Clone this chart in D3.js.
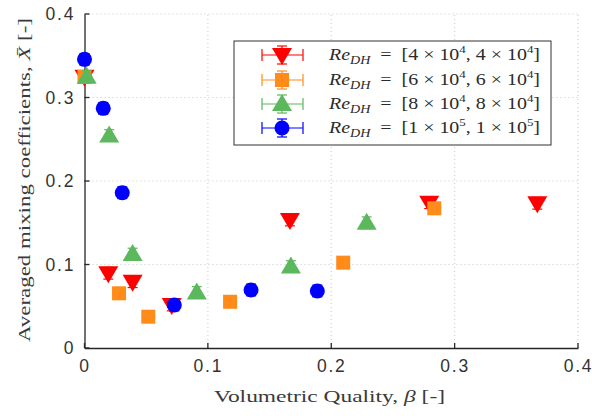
<!DOCTYPE html>
<html><head><meta charset="utf-8">
<script src="https://cdn.jsdelivr.net/npm/d3@7"></script>
<style>body{margin:0;background:#fff}svg{display:block}</style>
</head><body>
<svg id="chart" width="592" height="416"></svg>
<script>
const xTicks = [0, 0.1, 0.2, 0.3, 0.4];
const yTicks = [0, 0.1, 0.2, 0.3, 0.4];
const seriesNames = ["4", "6", "8", "1"];
const seriesExp = ["4", "4", "4", "5"];
const redX = [0, 0.0193, 0.039, 0.0707, 0.1665, 0.2794, 0.367];
const redY = [0.325, 0.0895, 0.0794, 0.0515, 0.1533, 0.174, 0.1733];
const orangeX = [0, 0.028, 0.0517, 0.118, 0.2097, 0.2835];
const orangeY = [0.3246, 0.0655, 0.0375, 0.0554, 0.1022, 0.1673];
const greenX = [0.0018, 0.020, 0.039, 0.091, 0.1673, 0.2287];
const greenY = [0.325, 0.2545, 0.1125, 0.0665, 0.0975, 0.150];
const blueX = [0, 0.0152, 0.0306, 0.0728, 0.135, 0.1887];
const blueY = [0.3457, 0.287, 0.186, 0.0515, 0.0695, 0.0683];
const xErr = 0.002, yErr = 0.007;

const svg = d3.select("#chart");
const L = 84.5, R = 578, T = 14, B = 348;
const x = d3.scaleLinear().domain([0, 0.4]).range([L, R]);
const y = d3.scaleLinear().domain([0, 0.4]).range([B, T]);
const tickFont = "Liberation Sans, Arial, sans-serif";
const serif = "Liberation Serif, serif";
const NB = "\u00A0";

// grid
const grid = svg.append("g").attr("stroke", "#c8c8c8").attr("stroke-dasharray", "1,3").attr("stroke-width", 1);
xTicks.slice(1).forEach(t => grid.append("line").attr("x1", x(t)).attr("x2", x(t)).attr("y1", B).attr("y2", T));
yTicks.slice(1).forEach(t => grid.append("line").attr("x1", L).attr("x2", R).attr("y1", y(t)).attr("y2", y(t)));

// axes
const fmt = d => d === 0 ? "0" : d3.format(".1f")(d);
const xAxis = d3.axisBottom(x).tickValues(xTicks).tickSize(0).tickPadding(12).tickFormat(fmt);
const yAxis = d3.axisLeft(y).tickValues(yTicks).tickSize(0).tickPadding(11).tickFormat(fmt);
const gx = svg.append("g").attr("transform", `translate(0,${B})`).call(xAxis);
const gy = svg.append("g").attr("transform", `translate(${L},0)`).call(yAxis);
[gx, gy].forEach(g => {
  g.select(".domain").attr("stroke", "#262626").attr("stroke-width", 1.3);
  g.selectAll("text").attr("font-family", tickFont).attr("font-size", 17.5).attr("letter-spacing", 1.8).attr("fill", "#333");
});
gy.selectAll("text").attr("dx", 1.8);
// inward ticks
const tk = svg.append("g").attr("stroke", "#262626").attr("stroke-width", 1.3);
xTicks.forEach(t => tk.append("line").attr("x1", x(t)).attr("x2", x(t)).attr("y1", B).attr("y2", B - 5));
yTicks.forEach(t => tk.append("line").attr("x1", L).attr("x2", L + 5).attr("y1", y(t)).attr("y2", y(t)));

// titles
svg.append("text").attr("x", 214).attr("y", 402)
  .attr("textLength", 231).attr("lengthAdjust", "spacingAndGlyphs")
  .attr("font-family", serif).attr("font-size", 17.5).attr("fill", "#3a3a3a")
  .html('Volumetric Quality, <tspan font-style="italic">β</tspan> [-]');
svg.append("text").attr("transform", `translate(30,342) rotate(-90)`)
  .attr("textLength", 324).attr("lengthAdjust", "spacingAndGlyphs")
  .attr("font-family", serif).attr("font-size", 17.5).attr("fill", "#3a3a3a")
  .html('Averaged mixing coefficients, <tspan font-style="italic">X̄</tspan> [-]');

const series = [
  {xs: redX, ys: redY, color: "#ff0000", shape: "down"},
  {xs: orangeX, ys: orangeY, color: "#ff8c1a", shape: "square"},
  {xs: greenX, ys: greenY, color: "#5cb85c", shape: "up"},
  {xs: blueX, ys: blueY, color: "#0000ff", shape: "circle"}
];

function marker(g, shape, cx, cy, color) {
  if (shape === "circle") g.append("circle").attr("cx", cx).attr("cy", cy).attr("r", 7.5).attr("fill", color);
  else if (shape === "square") g.append("rect").attr("x", cx - 7).attr("y", cy - 7).attr("width", 14).attr("height", 14).attr("fill", color);
  else if (shape === "down") g.append("path").attr("d", `M${cx - 10},${cy - 7} L${cx + 10},${cy - 7} L${cx},${cy + 10} Z`).attr("fill", color);
  else g.append("path").attr("d", `M${cx - 10},${cy + 7} L${cx + 10},${cy + 7} L${cx},${cy - 10} Z`).attr("fill", color);
}

const plot = svg.append("g");
series.forEach(s => {
  s.xs.forEach((xv, i) => {
    const g = plot.append("g");
    const cx = x(xv), cy = y(s.ys[i]);
    const eb = g.append("g").attr("stroke", s.color).attr("stroke-width", 1.2);
    eb.append("line").attr("x1", cx).attr("x2", cx).attr("y1", y(s.ys[i] - yErr)).attr("y2", y(s.ys[i] + yErr));
    [s.ys[i] - yErr, s.ys[i] + yErr].forEach(v => eb.append("line").attr("x1", cx - 5).attr("x2", cx + 5).attr("y1", y(v)).attr("y2", y(v)));
    eb.append("line").attr("x1", x(xv - xErr)).attr("x2", x(xv + xErr)).attr("y1", cy).attr("y2", cy);
    [xv - xErr, xv + xErr].forEach(v => eb.append("line").attr("x1", x(v)).attr("x2", x(v)).attr("y1", cy - 5).attr("y2", cy + 5));
    marker(g, s.shape, cx, cy, s.color);
  });
});

// legend
const lg = svg.append("g");
lg.append("rect").attr("x", 234).attr("y", 41).attr("width", 317).attr("height", 104).attr("fill", "#fff").attr("stroke", "#333").attr("stroke-width", 1);
const rowY = [55, 80, 104, 128];
series.forEach((s, i) => {
  const cy = rowY[i];
  const eb = lg.append("g").attr("stroke", s.color).attr("stroke-width", 1.2);
  eb.append("line").attr("x1", 262).attr("x2", 303).attr("y1", cy).attr("y2", cy);
  [262, 303].forEach(v => eb.append("line").attr("x1", v).attr("x2", v).attr("y1", cy - 6).attr("y2", cy + 6));
  eb.append("line").attr("x1", 282).attr("x2", 282).attr("y1", cy - 9).attr("y2", cy + 9);
  [cy - 9, cy + 9].forEach(v => eb.append("line").attr("x1", 277).attr("x2", 287).attr("y1", v).attr("y2", v));
  marker(lg, s.shape, 282, cy, s.color);
  const n = seriesNames[i], e = seriesExp[i];
  lg.append("text").attr("x", 329).attr("y", cy + 4.5)
    .attr("textLength", 211).attr("lengthAdjust", "spacingAndGlyphs")
    .attr("font-family", serif).attr("font-size", 17).attr("fill", "#2a2a2a")
    .html(`<tspan font-style="italic">Re</tspan><tspan font-style="italic" font-size="12" dy="4">DH</tspan><tspan dy="-4">${NB}${NB}=${NB}${NB}[${n}${NB}×${NB}10</tspan><tspan font-size="11" dy="-7">${e}</tspan><tspan dy="7">,${NB}${n}${NB}×${NB}10</tspan><tspan font-size="11" dy="-7">${e}</tspan><tspan dy="7">]</tspan>`);
});
</script>
</body></html>
